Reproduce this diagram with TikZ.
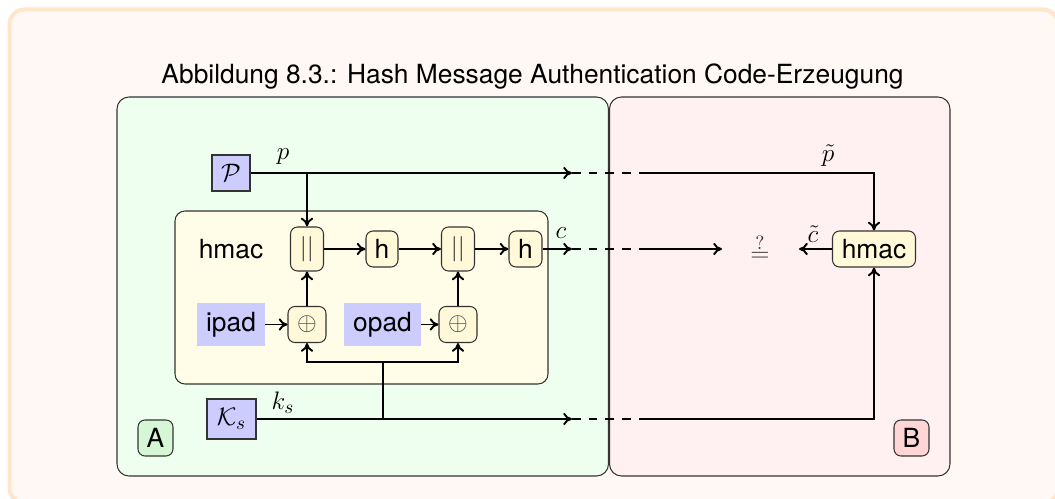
\documentclass[tikz,border=0pt]{standalone}
\usepackage{fontspec}
\setmainfont{TeX Gyre Heros}
\usetikzlibrary{arrows.meta}
\newdimen\pxu \pxu=0.02cm
\definecolor{frameborder}{HTML}{FFE5CC}
\definecolor{framefill}{HTML}{FFF8F4}
\definecolor{greenbg}{HTML}{EFFFEF}
\definecolor{greenlbl}{HTML}{D5F7D5}
\definecolor{pinkbg}{HTML}{FFF0F1}
\definecolor{pinklbl}{HTML}{FFD6D6}
\definecolor{hmacbg}{HTML}{FFFDE7}
\definecolor{opfill}{HTML}{FFF9D9}
\definecolor{bluefill}{HTML}{CCCCFF}
\definecolor{bordergray}{HTML}{333333}
\begin{document}
\begin{tikzpicture}[x=0.02cm,y=-0.02cm,
  font=\fontsize{15}{18}\selectfont,
  >={Computer Modern Rightarrow[length=5pt,width=7pt]},
  conn/.style={line width=1.1pt},
  dashline/.style={line width=1.1pt, dash pattern=on 5pt off 4.5pt},
  region/.style={draw=bordergray, line width=0.6pt, rounded corners=12\pxu, inner sep=0pt},
  opnode/.style={draw=bordergray, line width=0.6pt, fill=opfill, rounded corners=7\pxu, inner sep=0pt},
  srcnode/.style={draw=bordergray, line width=0.6pt, fill=bluefill, inner sep=0pt},
  padnode/.style={fill=bluefill, inner sep=0pt},
  lbl/.style={inner sep=0pt}]
\useasboundingbox (0,0) rectangle (1055,499);
\clip (0,0) rectangle (1055,499);
% outer frame
\draw[draw=frameborder, fill=framefill, line width=4\pxu, rounded corners=15\pxu] (9.5,9.5) rectangle (1058,503);
\node[anchor=base] (title) at (532.5,84) {Abbildung 8.3.: Hash Message Authentication Code-Erzeugung};
% regions
\node[region, fill=greenbg, minimum width=491.5\pxu, minimum height=379\pxu] (partyA) at (362.75,286.5) {};
\node[region, fill=pinkbg, minimum width=340.5\pxu, minimum height=379\pxu] (partyB) at (779.75,286.5) {};
\node[region, fill=hmacbg, rounded corners=10\pxu, minimum width=373\pxu, minimum height=173\pxu] (hmacbox) at (361.5,297.5) {};
% nodes
\node[lbl] (hmactxt) at (231,249) {hmac};
\node[srcnode, minimum width=38\pxu, minimum height=36\pxu] (P) at (231,173) {$\mathcal{P}$};
\node[srcnode, minimum width=49\pxu, minimum height=40\pxu] (Ks) at (231.5,419) {$\mathcal{K}_s$};
\node[padnode, minimum width=68\pxu, minimum height=43\pxu] (ipad) at (231,324.5) {ipad};
\node[padnode, minimum width=77\pxu, minimum height=43\pxu] (opad) at (382.5,324.5) {opad};
\node[opnode, minimum width=33\pxu, minimum height=44\pxu] (cat1) at (307,249) {\color{black!85}$||$};
\node[opnode, minimum width=32\pxu, minimum height=36\pxu] (h1) at (382,249) {h};
\node[opnode, minimum width=33\pxu, minimum height=44\pxu] (cat2) at (458,249) {\color{black!85}$||$};
\node[opnode, minimum width=33\pxu, minimum height=36\pxu] (h2) at (525.5,249) {h};
\node[opnode, minimum width=38\pxu, minimum height=36\pxu] (xor1) at (307,324.5) {\color{black!75}$\oplus$};
\node[opnode, minimum width=38\pxu, minimum height=36\pxu] (xor2) at (458,324.5) {\color{black!75}$\oplus$};
\node[opnode, minimum width=83\pxu, minimum height=36\pxu] (hmacB) at (874,249) {hmac};
\node[lbl] (eq) at (760,248) {\color{black!80}$\stackrel{?}{=}$};
\node[opnode, fill=greenlbl, minimum width=35\pxu, minimum height=36\pxu] (A) at (155.5,438) {A};
\node[opnode, fill=pinklbl, minimum width=35\pxu, minimum height=36\pxu] (B) at (911.5,438) {B};
% labels
\node[lbl] (plbl) at (283,157) {$p$};
\node[lbl] (ptl) at (828,156) {$\tilde p$};
\node[lbl] (clbl) at (561,233) {$c$};
\node[lbl] (ctl) at (813,234) {$\tilde c$};
\node[lbl] (kslbl) at (283,403) {$k_s$};
% coordinates
\coordinate (pa) at (572,173);
\coordinate (pd) at (648,173);
\coordinate (ca) at (572,249);
\coordinate (cd) at (648,249);
\coordinate (cend) at (722,249);
\coordinate (ka) at (572,419);
\coordinate (kd) at (648,419);
\coordinate (kj) at (383,419);
\coordinate (kb) at (383,362);
\coordinate (hc) at (799,249);
% connectors: p
\draw[conn,->] (P) -- (pa);
\draw[dashline] (pa) -- (pd);
\draw[conn,->] (pd) -| (hmacB);
\draw[conn,->] (P.east -| cat1) -- (cat1);
% hmac chain
\draw[conn,->] (cat1) -- (h1);
\draw[conn,->] (h1) -- (cat2);
\draw[conn,->] (cat2) -- (h2);
\draw[conn,->] (h2) -- (ca);
\draw[dashline] (ca) -- (cd);
\draw[conn,->] (cd) -- (cend);
\draw[conn,->] (hmacB) -- (hc);
\draw[conn,->] (ipad) -- (xor1);
\draw[conn,->] (opad) -- (xor2);
\draw[conn,->] (xor1) -- (cat1);
\draw[conn,->] (xor2) -- (cat2);
% key
\draw[conn] (kj) -- (kb);
\draw[conn,->] (kb) -| (xor1);
\draw[conn,->] (kb) -| (xor2);
\draw[conn,->] (Ks) -- (ka);
\draw[dashline] (ka) -- (kd);
\draw[conn,->] (kd) -| (hmacB);
\end{tikzpicture}
\end{document}
